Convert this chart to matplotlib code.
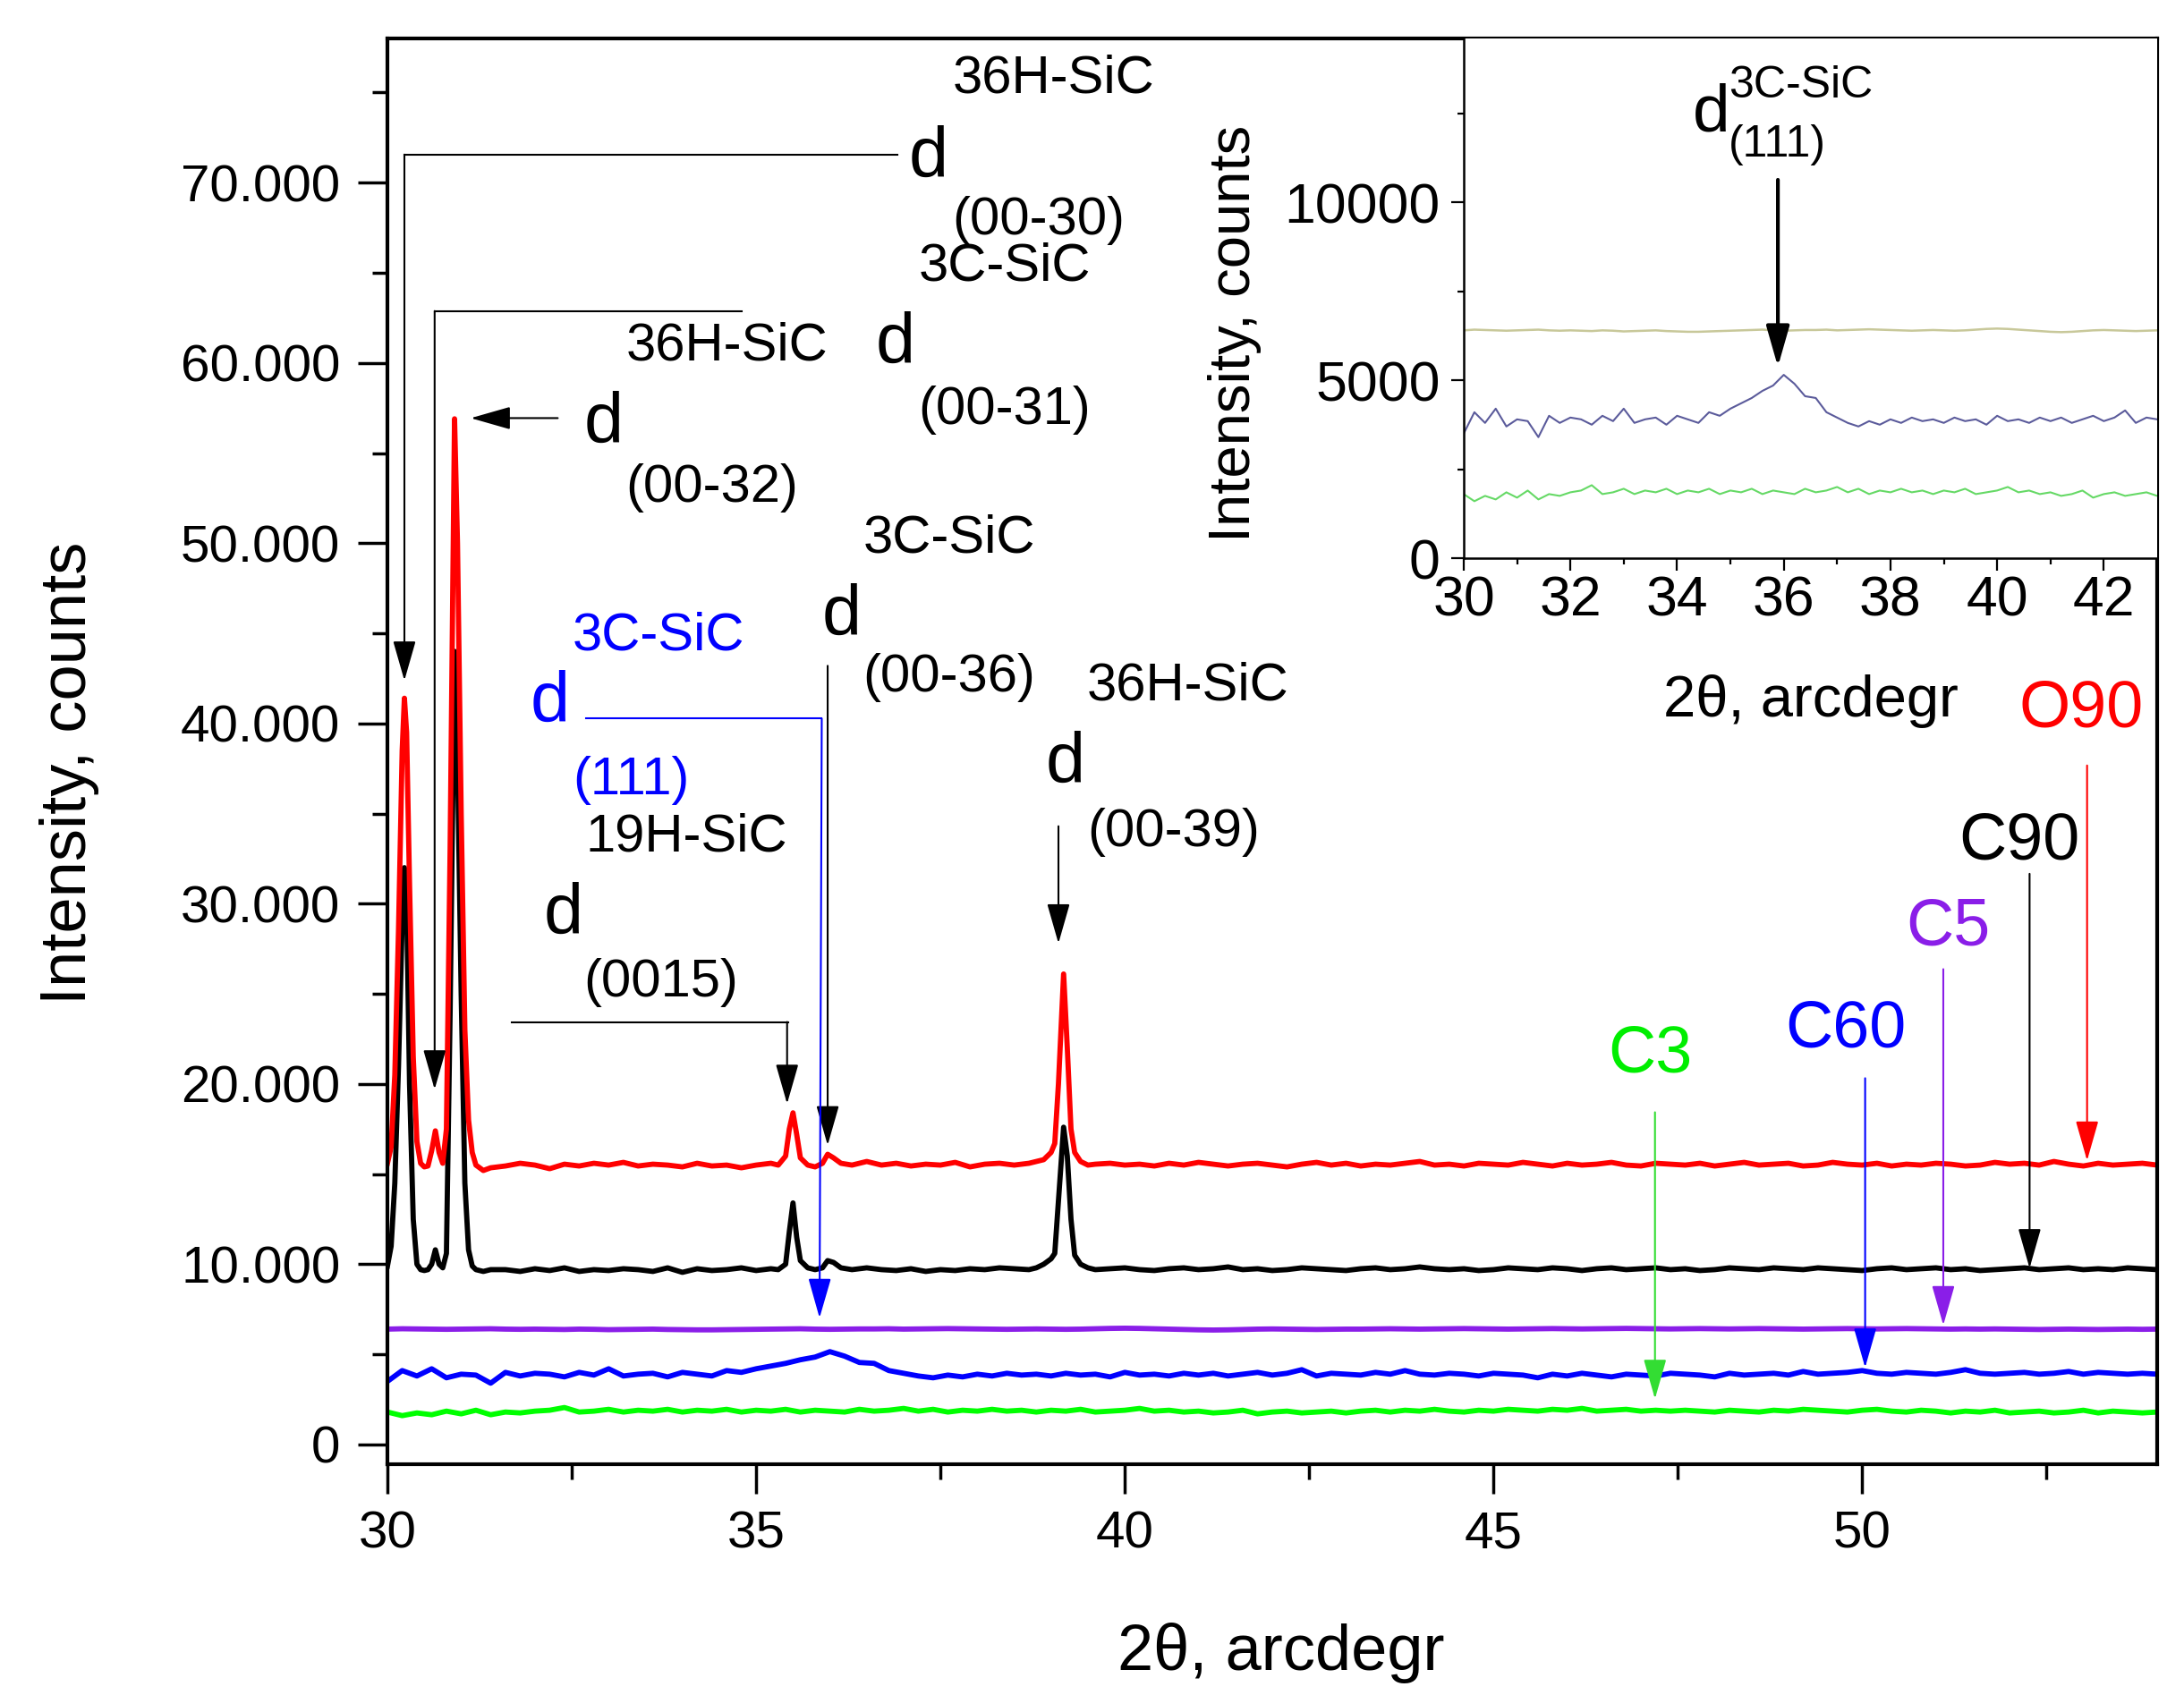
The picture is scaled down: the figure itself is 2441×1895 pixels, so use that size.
import numpy as np
import matplotlib
matplotlib.use('Agg')
import matplotlib.pyplot as plt
from matplotlib.ticker import MultipleLocator, FuncFormatter

plt.rcParams['font.family'] = ['Liberation Sans', 'DejaVu Sans']

#######################################
###### DATA
#######################################

# scan positions for the SiC samples (finer steps around the peaks)
peak_x1 = [30.00, 30.05, 30.10, 30.15, 30.20, 30.23, 30.26, 30.30, 30.35, 30.40,
           30.45, 30.50, 30.55, 30.60, 30.65, 30.70, 30.75, 30.80, 30.85, 30.91,
           30.95, 31.00, 31.05, 31.10, 31.15, 31.20, 31.30, 31.40]
peak_x2 = [35.30, 35.40, 35.45, 35.50, 35.55, 35.60, 35.70, 35.80, 35.90, 35.97,
           36.05, 36.15, 36.30]
peak_x3 = [38.70, 38.80, 38.90, 39.00, 39.05, 39.10, 39.17, 39.22, 39.27, 39.32,
           39.40, 39.50, 39.60]
two_theta_sic = np.concatenate([peak_x1, np.arange(31.6, 35.21, 0.2),
                                peak_x2, np.arange(36.5, 38.51, 0.2),
                                peak_x3, np.arange(39.8, 54.01, 0.2)])

# plain scan (0.2 deg step) for the samples without sharp peaks
two_theta = np.arange(30.0, 54.01, 0.2)

# O90 (red)
o90 = ([15600, 16500, 20500, 28500, 38500, 41400, 39500, 31000, 21500, 16800,
        15600, 15400, 15450, 16300, 17400, 16200, 15600, 17500, 33000, 56900,
        50000, 35000, 23000, 18000, 16200, 15500, 15200, 15350]
       + [15450, 15600, 15500, 15300, 15550, 15450, 15600, 15500, 15650, 15450,
          15550, 15500, 15400, 15600, 15450, 15500, 15350, 15500, 15600]
       + [15500, 16000, 17500, 18400, 17200, 15900, 15500, 15400, 15600, 16100,
          15900, 15600, 15500]
       + [15700, 15500, 15600, 15450, 15550, 15500, 15650, 15400, 15550, 15600, 15500]
       + [15600, 15700, 15800, 16200, 16700, 20000, 26100, 22000, 17500, 16200,
          15700, 15500, 15550]
       + [15600, 15500, 15550, 15450, 15600, 15500, 15650, 15550, 15450, 15550, 15600, 15500,
          15400, 15550, 15650, 15500, 15600, 15450, 15550, 15500, 15600, 15700, 15500, 15550,
          15450, 15600, 15550, 15500, 15650, 15550, 15450, 15600, 15500, 15550, 15650, 15500,
          15450, 15600, 15550, 15500, 15600, 15450, 15550, 15650, 15500, 15550, 15600, 15450,
          15500, 15650, 15550, 15500, 15600, 15450, 15550, 15500, 15600, 15550, 15450, 15500,
          15650, 15550, 15600, 15500, 15700, 15550, 15450, 15600, 15500, 15550, 15600, 15500])

# C90 (black)
c90 = ([9900, 11000, 14500, 21000, 29000, 32000, 30000, 20000, 12500, 10000,
        9700, 9650, 9700, 10000, 10800, 10000, 9800, 10600, 24000, 44000,
        38000, 25000, 14500, 10800, 9900, 9700, 9600, 9700]
       + [9700, 9600, 9750, 9650, 9800, 9600, 9700, 9650, 9750, 9700,
          9600, 9800, 9550, 9750, 9650, 9700, 9800, 9650, 9750]
       + [9700, 10000, 11800, 13400, 11500, 10200, 9800, 9700, 9800, 10200,
          10100, 9800, 9700]
       + [9800, 9700, 9650, 9750, 9600, 9700, 9650, 9750, 9700, 9800, 9750]
       + [9700, 9800, 10000, 10300, 10600, 13500, 17600, 16000, 12500, 10500,
          10000, 9800, 9700]
       + [9750, 9800, 9700, 9650, 9750, 9800, 9700, 9750, 9850, 9700, 9750, 9650,
          9700, 9800, 9750, 9700, 9650, 9750, 9800, 9700, 9750, 9850, 9750, 9700,
          9750, 9650, 9700, 9800, 9750, 9700, 9800, 9750, 9650, 9750, 9800, 9700,
          9750, 9800, 9700, 9750, 9650, 9700, 9800, 9750, 9700, 9800, 9750, 9700,
          9800, 9750, 9700, 9650, 9750, 9800, 9700, 9750, 9800, 9700, 9750, 9650,
          9700, 9750, 9800, 9700, 9750, 9800, 9700, 9750, 9700, 9800, 9750, 9700])

# C5 (violet)
c5 = [6400, 6420, 6410, 6400, 6390, 6400, 6410, 6420, 6400, 6390, 6400,
      6390, 6380, 6400, 6390, 6370, 6380, 6390, 6400, 6380, 6370, 6360,
      6360, 6370, 6380, 6390, 6400, 6410, 6420, 6400, 6390, 6400, 6410,
      6410, 6420, 6400, 6410, 6420, 6430, 6420, 6410, 6400, 6390, 6400,
      6410, 6400, 6390, 6400, 6420, 6440, 6450, 6440, 6420, 6400, 6380,
      6360, 6350, 6360, 6380, 6400, 6410, 6400, 6390, 6380, 6390, 6400,
      6400, 6410, 6420, 6410, 6400, 6410, 6420, 6430, 6420, 6410, 6400,
      6410, 6420, 6430, 6420, 6410, 6420, 6430, 6440, 6430, 6420, 6410,
      6420, 6430, 6420, 6410, 6420, 6430, 6420, 6410, 6400, 6410, 6420,
      6430, 6420, 6410, 6420, 6430, 6420, 6410, 6400, 6410, 6400, 6410,
      6400, 6390, 6380, 6390, 6400, 6390, 6380, 6390, 6400, 6390, 6400]

# C60 (blue)
c60 = [3500, 4100, 3800, 4200, 3700, 3900, 3850, 3400, 4000, 3800, 3950,
       3900, 3750, 4000, 3850, 4200, 3800, 3900, 3950, 3750, 4000, 3900,
       3800, 4100, 4000, 4200, 4350, 4500, 4700, 4850, 5150, 4900, 4550,
       4500, 4100, 3950, 3800, 3700, 3850, 3750, 3900, 3800, 3950, 3850,
       3900, 3800, 3950, 3850, 3900, 3750, 4000, 3850, 3900, 3800, 3950,
       3850, 3950, 3800, 3900, 4000, 3850, 3950, 4150, 3800, 3950, 3900,
       3850, 4000, 3900, 4100, 3900, 3850, 3950, 3900, 3800, 3950, 3900,
       3850, 3700, 3900, 3800, 3950, 3850, 3750, 3900, 3850, 3800, 3950,
       3900, 3850, 3750, 3950, 3850, 3900, 3950, 3850, 4050, 3900, 3950,
       4000, 4100, 3950, 3900, 4000, 3950, 3900, 4000, 4150, 3950, 3900,
       3950, 4000, 3900, 3950, 4050, 3900, 4000, 3950, 3900, 3950, 3900]

# C3 (green)
c3 = [1800, 1600, 1750, 1650, 1850, 1700, 1900, 1650, 1800, 1750, 1850,
      1900, 2050, 1800, 1850, 1950, 1800, 1900, 1850, 1950, 1800, 1900,
      1850, 1950, 1800, 1900, 1850, 1950, 1800, 1900, 1850, 1800, 1950,
      1850, 1900, 2000, 1850, 1950, 1800, 1900, 1850, 1950, 1850, 1900,
      1800, 1900, 1850, 1950, 1800, 1850, 1900, 2000, 1850, 1900, 1800,
      1850, 1750, 1800, 1900, 1700, 1800, 1850, 1750, 1800, 1850, 1750,
      1850, 1900, 1800, 1900, 1850, 1950, 1850, 1800, 1900, 1850, 1950,
      1900, 1850, 1950, 1900, 2000, 1850, 1900, 1950, 1850, 1900, 1850,
      1900, 1850, 1800, 1900, 1850, 1800, 1900, 1850, 1950, 1900, 1850,
      1800, 1900, 1950, 1850, 1800, 1900, 1850, 1750, 1850, 1800, 1900,
      1750, 1800, 1850, 1750, 1800, 1900, 1750, 1850, 1800, 1750, 1800]

main_xticks = [30, 35, 40, 45, 50]
main_yticks = [0, 10000, 20000, 30000, 40000, 50000, 60000, 70000]
inset_xticks = [30, 32, 34, 36, 38, 40, 42]
inset_yticks = [0, 5000, 10000]

#######################################
###### FIGURE
#######################################

def arrow(axis, x0, y0, x1, y1, color='k', lw=1.5):
    '''draws a straight arrow with a filled triangular head at (x1, y1)'''
    axis.annotate('', xy=(x1, y1), xytext=(x0, y0),
                  arrowprops=dict(arrowstyle='-|>,head_length=0.7,head_width=0.2',
                                  mutation_scale=40, color=color, lw=lw,
                                  shrinkA=0, shrinkB=0))

fig = plt.figure(figsize=(24.41, 18.95), dpi=100)
ax = fig.add_axes([0.1774, 0.1361, 0.8103, 0.8412])

LW = 4.2
ax.plot(two_theta, c3, color='#00ff00', lw=LW)
ax.plot(two_theta, c60, color='#0000ff', lw=LW)
ax.plot(two_theta, c5, color='#8a1ee8', lw=LW)
ax.plot(two_theta_sic, c90, color='black', lw=LW)
ax.plot(two_theta_sic, o90, color='#ff0000', lw=LW)

ax.set_xlim(30, 54)
ax.set_ylim(-1100, 78000)
ax.set_xticks(main_xticks)
ax.set_yticks(main_yticks)
ax.xaxis.set_minor_locator(MultipleLocator(2.5))
ax.yaxis.set_minor_locator(MultipleLocator(5000))
ax.yaxis.set_major_formatter(FuncFormatter(lambda v, p: f'{int(v):,}'.replace(',', '.')))
ax.tick_params(which='major', direction='out', length=24, width=2.5, labelsize=42)
ax.tick_params(which='minor', direction='out', length=12, width=2.5)
ax.tick_params(axis='x', which='major', pad=13)
ax.tick_params(axis='y', which='major', pad=14)
for s in ax.spines.values():
    s.set_linewidth(3)

ax.set_xlabel('2θ, arcdegr', fontsize=52, va='center')
ax.xaxis.set_label_coords(0.505, -0.132)
ax.set_ylabel('Intensity, counts', fontsize=52, va='center')
ax.yaxis.set_label_coords(-0.18, 0.485)

small = 43
big_d = 57
# 36H-SiC d(00-30)
ax.text(37.66, 74990, '36H-SiC', fontsize=small)
ax.text(37.07, 70300, 'd', fontsize=big_d)
ax.text(37.66, 67150, '(00-30)', fontsize=small)
ax.plot([36.92, 30.23], [71560, 71560], color='black', lw=1.5)
arrow(ax, 30.23, 71560, 30.23, 42380)
# 3C-SiC / 36H-SiC d(00-31)
ax.text(37.2, 64570, '3C-SiC', fontsize=small)
ax.text(33.23, 60150, '36H-SiC', fontsize=small)
ax.text(36.62, 60000, 'd', fontsize=big_d)
ax.text(37.2, 56590, '(00-31)', fontsize=small)
ax.plot([34.81, 30.64], [62880, 62880], color='black', lw=1.5)
arrow(ax, 30.64, 62880, 30.64, 19700)
# d(00-32)
ax.text(32.66, 55580, 'd', fontsize=big_d)
ax.text(33.23, 52310, '(00-32)', fontsize=small)
arrow(ax, 32.31, 56940, 31.13, 56940)
# 3C-SiC d(00-36)
ax.text(36.45, 49480, '3C-SiC', fontsize=small)
ax.text(35.89, 44910, 'd', fontsize=big_d)
ax.text(36.45, 41790, '(00-36)', fontsize=small)
arrow(ax, 35.97, 43200, 35.97, 16600)
# 36H-SiC d(00-39)
ax.text(39.49, 41310, '36H-SiC', fontsize=small)
ax.text(38.92, 36730, 'd', fontsize=big_d)
ax.text(39.49, 33200, '(00-39)', fontsize=small)
arrow(ax, 39.1, 34300, 39.1, 27800)
# 3C-SiC d(111), blue
ax.text(32.51, 44070, '3C-SiC', fontsize=small, color='#0000ff')
ax.text(31.94, 40100, 'd', fontsize=big_d, color='#0000ff')
ax.text(32.51, 36080, '(111)', fontsize=small, color='#0000ff')
ax.plot([32.69, 35.89], [40270, 40270], color='#0000ff', lw=1.5)
arrow(ax, 35.89, 40270, 35.86, 7020, color='#0000ff')
# 19H-SiC d(0015)
ax.text(32.69, 32910, '19H-SiC', fontsize=small)
ax.text(32.12, 28350, 'd', fontsize=big_d)
ax.text(32.66, 24880, '(0015)', fontsize=small)
ax.plot([31.69, 35.44], [23440, 23440], color='black', lw=1.5)
arrow(ax, 35.42, 23440, 35.42, 18900)

# sample labels
lab = 53
ax.text(46.55, 20640, 'C3', fontsize=lab, color='#00ee00')
arrow(ax, 47.19, 18430, 47.19, 2530, color='#33dd33')
ax.text(48.96, 22050, 'C60', fontsize=lab, color='#0000ff')
arrow(ax, 50.04, 20320, 50.04, 4270, color='#0000ff')
ax.text(50.59, 27720, 'C5', fontsize=lab, color='#8a1ee8')
arrow(ax, 51.10, 26370, 51.10, 6620, color='#8a1ee8')
ax.text(51.31, 32450, 'C90', fontsize=lab, color='black')
arrow(ax, 52.27, 31660, 52.27, 9780)
ax.text(52.13, 39800, 'O90', fontsize=lab, color='#ff0000')
arrow(ax, 53.05, 37670, 53.05, 15750, color='#ff0000')

#######################################
###### INSET
#######################################

ins = fig.add_axes([0.6702, 0.6707, 0.3175, 0.3066])
ins.plot(two_theta, c5, color='#c8c89a', lw=1.8)
ins.plot(two_theta, c60, color='#5b5b9b', lw=1.5)
ins.plot(two_theta, c3, color='#66d966', lw=1.5)
ins.set_xlim(30, 43)
ins.set_ylim(0, 14600)
ins.set_xticks(inset_xticks)
ins.set_yticks(inset_yticks)
ins.xaxis.set_minor_locator(MultipleLocator(1))
ins.yaxis.set_minor_locator(MultipleLocator(2500))
ins.tick_params(which='major', direction='out', length=10, width=1.6, labelsize=45)
ins.tick_params(which='minor', direction='out', length=5, width=1.6)
ins.tick_params(axis='x', which='major', pad=3)
ins.tick_params(axis='y', which='major', pad=9)
ins.spines['top'].set_visible(False)
ins.spines['right'].set_visible(False)
ins.spines['left'].set_linewidth(1.8)
ins.spines['bottom'].set_linewidth(1.8)
ins.set_xlabel('2θ, arcdegr', fontsize=47, va='center')
ins.xaxis.set_label_coords(0.5006, -0.2747)
ins.set_ylabel('Intensity, counts', fontsize=47, va='center')
ins.yaxis.set_label_coords(-0.33, 0.432)

ins.text(34.3, 12010, 'd', fontsize=54)
ins.text(34.96, 12940, '3C-SiC', fontsize=36)
ins.text(34.97, 11280, '(111)', fontsize=36)
arrow(ins, 35.89, 10630, 35.89, 5380, lw=3)

fig.savefig('out.png', dpi=100)
